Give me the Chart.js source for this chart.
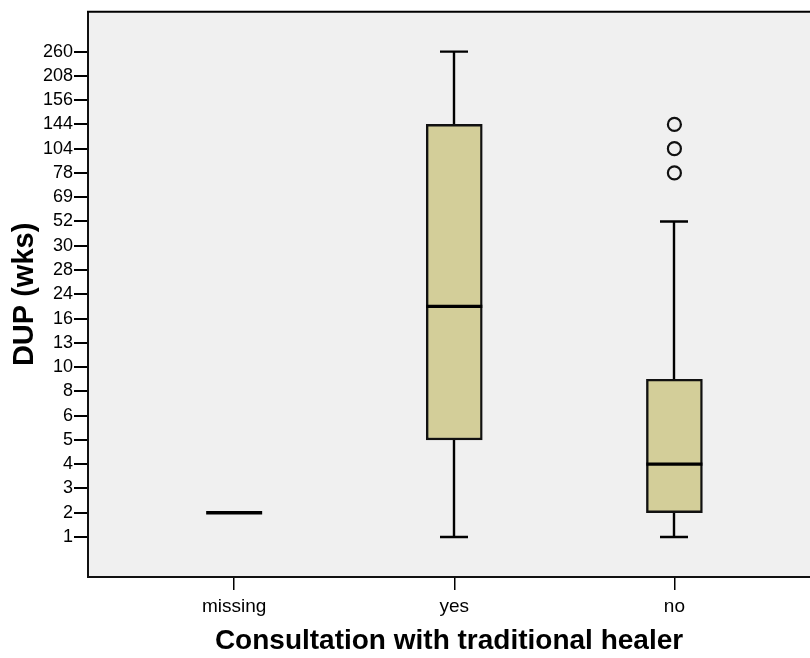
<!DOCTYPE html>
<html>
<head>
<meta charset="utf-8">
<script src="https://cdn.jsdelivr.net/npm/chart.js@4.4.1/dist/chart.umd.min.js"></script>
<style>
  html, body { margin: 0; padding: 0; background: #fff; }
  canvas { display: block; }
</style>
</head>
<body>
<canvas id="boxChart" width="810" height="658"></canvas>
<script>
// categorias e valores (semanas)
const categories = ['missing', 'yes', 'no'];
const yTickValues = [1, 2, 3, 4, 5, 6, 8, 10, 13, 16, 24, 28, 30, 52, 69, 78, 104, 144, 156, 208, 260];

const whiskerLow = [2, 1, 1];
const quartile1 = [2, 5, 2];
const medians = [2, 20, 4];
const quartile3 = [2, 144, 9];
const whiskerHigh = [2, 260, 52];
const outliersNo = [78, 104, 144];

// o eixo do SPSS é ordinal: cada rótulo ocupa uma posição igual
const rank = (v) => {
    const i = yTickValues.indexOf(v);
    if (i >= 0) return i;
    for (let k = 0; k < yTickValues.length - 1; k++) {
        if (v > yTickValues[k] && v < yTickValues[k + 1]) {
            return k + (v - yTickValues[k]) / (yTickValues[k + 1] - yTickValues[k]);
        }
    }
    return null;
}

const BOX_HALF = 28;
const CAP_HALF = 14;

const boxData = [];
categories.forEach((c, i) => {
    if (quartile1[i] !== quartile3[i]) {
        boxData.push({ x: i, y: [rank(quartile1[i]), rank(quartile3[i])] });
    }
});

const outlierData = outliersNo.map(v => ({ x: 2, y: rank(v) }));

// fundo, moldura, bigodes e medianas
const boxPlugin = {
    id: 'boxParts',
    beforeDraw(chart) {
        const { ctx, chartArea } = chart;
        ctx.save();
        ctx.fillStyle = '#f0f0f0';
        ctx.fillRect(chartArea.left, chartArea.top, chartArea.right - chartArea.left, chartArea.bottom - chartArea.top);
        ctx.restore();
    },
    beforeDatasetsDraw(chart) {
        const { ctx, scales } = chart;
        const xs = scales.x, ys = scales.y;
        ctx.save();
        ctx.strokeStyle = '#000';
        ctx.lineWidth = 2.4;
        categories.forEach((c, i) => {
            if (whiskerLow[i] === whiskerHigh[i]) return;
            const cx = Math.round(xs.getPixelForValue(i));
            const yLo = ys.getPixelForValue(rank(whiskerLow[i]));
            const yQ1 = ys.getPixelForValue(rank(quartile1[i]));
            const yQ3 = ys.getPixelForValue(rank(quartile3[i]));
            const yHi = ys.getPixelForValue(rank(whiskerHigh[i]));
            ctx.beginPath();
            ctx.moveTo(cx, yLo); ctx.lineTo(cx, yQ1);
            ctx.moveTo(cx, yQ3); ctx.lineTo(cx, yHi);
            ctx.moveTo(cx - CAP_HALF, yLo); ctx.lineTo(cx + CAP_HALF, yLo);
            ctx.moveTo(cx - CAP_HALF, yHi); ctx.lineTo(cx + CAP_HALF, yHi);
            ctx.stroke();
        });
        ctx.restore();
    },
    afterDatasetsDraw(chart) {
        const { ctx, scales, chartArea } = chart;
        const xs = scales.x, ys = scales.y;
        ctx.save();
        ctx.strokeStyle = '#000';
        ctx.lineWidth = 3.4;
        categories.forEach((c, i) => {
            const cx = xs.getPixelForValue(i);
            const ym = ys.getPixelForValue(rank(medians[i]));
            ctx.beginPath();
            ctx.moveTo(cx - BOX_HALF, ym);
            ctx.lineTo(cx + BOX_HALF, ym);
            ctx.stroke();
        });
        // linha de cima da moldura
        ctx.lineWidth = 2;
        ctx.beginPath();
        ctx.moveTo(chartArea.left - 1, chartArea.top);
        ctx.lineTo(chartArea.right, chartArea.top);
        ctx.stroke();
        ctx.restore();
    }
};

const ctx = document.getElementById('boxChart').getContext('2d');

new Chart(ctx, {
    type: 'bar',
    data: {
        datasets: [{
            data: boxData,
            backgroundColor: '#d3ce99',
            borderColor: '#111',
            borderWidth: 2.4,
            borderSkipped: false,
            barThickness: BOX_HALF * 2
        }, {
            type: 'scatter',
            data: outlierData,
            pointStyle: 'circle',
            pointRadius: 6.5,
            borderWidth: 2.2,
            borderColor: '#111',
            backgroundColor: 'rgba(0,0,0,0)'
        }]
    },
    options: {
        responsive: false,
        animation: false,
        layout: { autoPadding: false, padding: { top: 10, left: 0, right: 0, bottom: 0 } },
        plugins: {
            legend: { display: false },
            tooltip: { enabled: false }
        },
        scales: {
            x: {
                type: 'linear',
                min: -0.664,
                max: 2.616,
                offset: false,
                afterBuildTicks: (scale) => { scale.ticks = categories.map((c, i) => ({ value: i })); },
                afterFit: (scale) => { scale.height = 81; },
                ticks: {
                    autoSkip: false,
                    maxRotation: 0,
                    padding: 5,
                    color: '#000',
                    font: { family: 'Liberation Sans', size: 19 },
                    callback: (v) => categories[v]
                },
                grid: { drawOnChartArea: false, drawTicks: true, tickLength: 13, color: '#000', lineWidth: 1.5, offset: false },
                border: { display: true, color: '#111', width: 2 },
                title: {
                    display: true,
                    text: 'Consultation with traditional healer',
                    color: '#000',
                    padding: { top: 0, bottom: 0 },
                    font: { family: 'Liberation Sans', size: 28, weight: 'bold', lineHeight: 1.2 }
                }
            },
            y: {
                type: 'linear',
                min: -1.65,
                max: 21.64,
                afterBuildTicks: (scale) => { scale.ticks = yTickValues.map((v, i) => ({ value: i })); },
                afterFit: (scale) => { scale.width = 88; },
                ticks: {
                    autoSkip: false,
                    padding: 1,
                    color: '#000',
                    font: { family: 'Liberation Sans', size: 18 },
                    callback: (v) => String(yTickValues[v])
                },
                grid: { drawOnChartArea: false, drawTicks: true, tickLength: 14, color: '#000', lineWidth: 2 },
                border: { display: true, color: '#111', width: 2 },
                title: {
                    display: true,
                    text: 'DUP (wks)',
                    color: '#000',
                    padding: { top: 8, bottom: 0 },
                    font: { family: 'Liberation Sans', size: 29, weight: 'bold', lineHeight: 1.2 }
                }
            }
        }
    },
    plugins: [boxPlugin]
});
</script>
</body>
</html>
